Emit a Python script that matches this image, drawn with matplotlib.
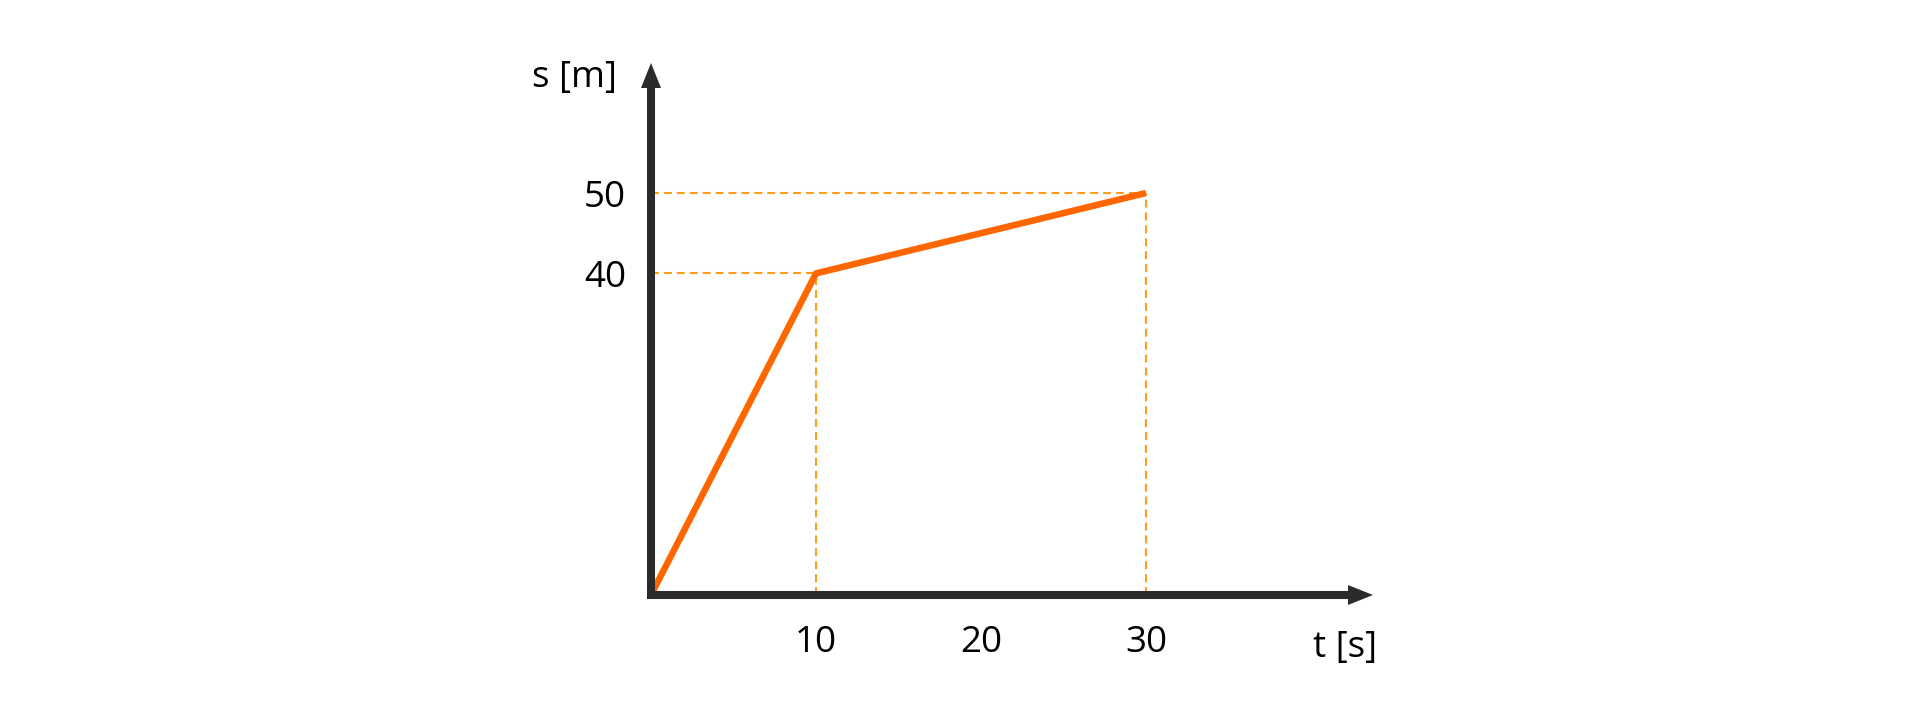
import matplotlib
matplotlib.use("Agg")
from matplotlib import pyplot as plt

# distance-time graph (schematic)
t = [0, 10, 30]
s = [0, 40, 50]
t_ticks = [10, 20, 30]
s_ticks = [40, 50]

plt.rcParams['font.family'] = ['Open Sans', 'DejaVu Sans']

fig = plt.figure(figsize=(19.2, 7.21), dpi=100)
ax = fig.add_axes([651 / 1920, 126 / 721, 722 / 1920, 532 / 721])
ax.set_xlim(0, 43.76)
ax.set_ylim(0, 66.17)
for sp in ax.spines.values():
    sp.set_visible(False)

axis_col = '#2b2b2b'
line_col = '#ff6600'
guide_col = '#ff9d1c'

# dashed guide lines to the axes
for ti, si in zip(t[1:], s[1:]):
    ax.plot([0, ti], [si, si], color=guide_col, lw=1.5, dashes=(3.8, 2.4), zorder=1)
    ax.plot([ti, ti], [0, si], color=guide_col, lw=1.5, dashes=(3.8, 2.4), zorder=1)

ax.plot(t, s, color=line_col, lw=4.7, solid_capstyle='butt', solid_joinstyle='round', zorder=2)

# axes drawn as arrows
ax.plot([0, 0, 0.97], [0.96, 0, 0], transform=ax.transAxes, color=axis_col, lw=5.8,
        solid_joinstyle='miter', solid_capstyle='butt', clip_on=False, zorder=3)
head = dict(arrowstyle='-|>,head_length=1.0,head_width=0.4', mutation_scale=18,
            lw=0, fc=axis_col, ec=axis_col, shrinkA=0, shrinkB=0)
ax.annotate('', xy=(0, 1), xycoords='axes fraction', xytext=(0, 0.9),
            textcoords='axes fraction', arrowprops=head, zorder=4)
ax.annotate('', xy=(1, 0), xycoords='axes fraction', xytext=(0.9, 0),
            textcoords='axes fraction', arrowprops=head, zorder=4)

ax.set_xticks(t_ticks)
ax.set_yticks(s_ticks)
ax.set_xticklabels([str(v) for v in t_ticks])
ax.set_yticklabels([str(v) for v in s_ticks])
ax.tick_params(axis='both', length=0, labelsize=26.5, colors='black')
ax.tick_params(axis='x', pad=21.6)
ax.tick_params(axis='y', pad=18)

ax.annotate('s [m]', xy=(0, 1), xycoords='axes fraction', xytext=(-34, -15),
            textcoords='offset pixels', ha='right', va='center', fontsize=26.5)
ax.annotate('t [s]', xy=(1, 0), xycoords='axes fraction', xytext=(4, -53),
            textcoords='offset pixels', ha='right', va='center', fontsize=26.5)

fig.savefig('out.png', dpi=100)
